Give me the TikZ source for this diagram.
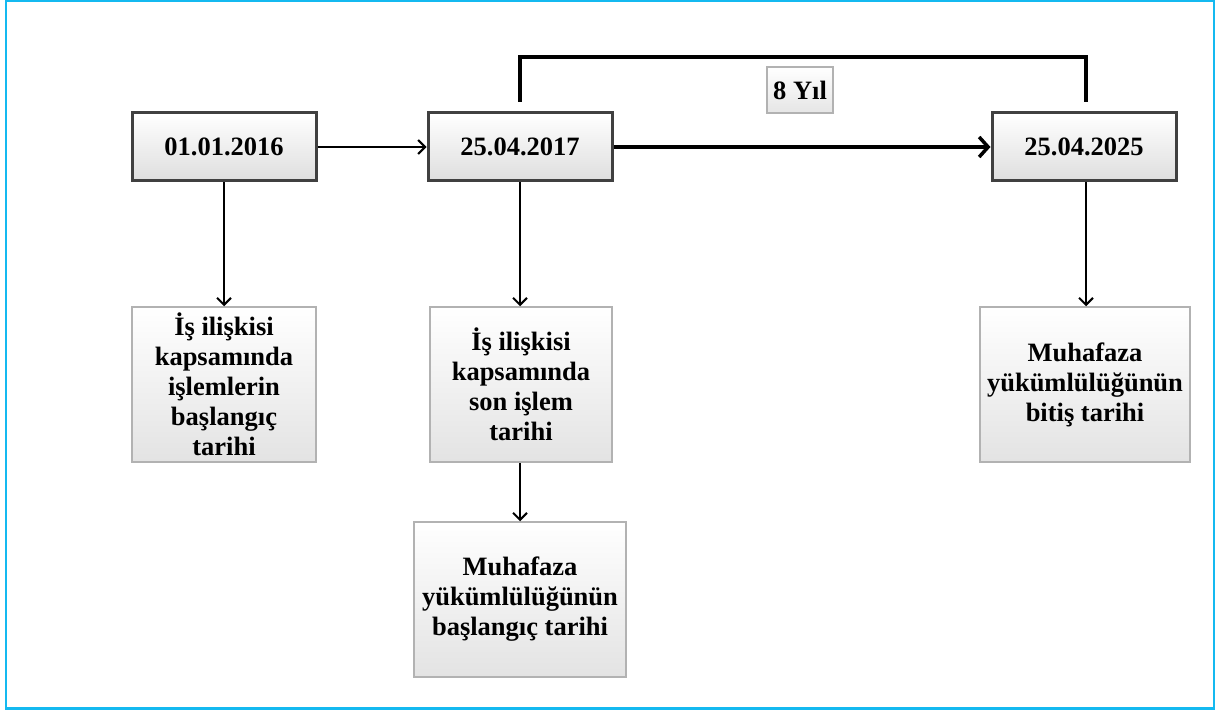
\documentclass[tikz,border=0pt]{standalone}
\usepackage{fontspec}
\setmainfont{Liberation Serif}
\usetikzlibrary{arrows.meta}
\definecolor{frameblue}{RGB}{20,185,240}
\definecolor{boxdark}{RGB}{64,64,64}
\definecolor{boxlight}{RGB}{178,178,178}
\tikzset{
  datebox/.style={draw=boxdark, line width=3pt, top color=white, bottom color=black!13,
    minimum width=184pt, minimum height=68pt, inner sep=0pt, align=center,
    font=\bfseries\fontsize{26.5}{30}\selectfont},
  infobox/.style={draw=boxlight, line width=1.5pt, top color=white, bottom color=black!11,
    minimum height=155pt, inner sep=0pt, align=center,
    font=\bfseries\fontsize{26.5}{30}\selectfont},
  lblbox/.style={draw=boxlight, line width=1.2pt, top color=white, bottom color=black!10,
    minimum width=66pt, minimum height=46pt, inner sep=0pt, align=center,
    font=\bfseries\fontsize{26.5}{30}\selectfont},
  thinarrow/.style={line width=1.8pt, -{Straight Barb[length=7pt,width=14pt,line width=2pt]}},
  thickarrow/.style={line width=4pt, -{Straight Barb[length=9pt,width=20pt,line width=3.5pt]}},
  bracket/.style={line width=4pt}
}
\begin{document}
\begin{tikzpicture}[x=1pt,y=-1pt]
\useasboundingbox (0,0) rectangle (1215,711);
\draw[frameblue, line width=2.5pt] (6,1) rectangle (1214,708.5);

\node[datebox] (a) at (224,147) {01.01.2016};
\node[datebox] (b) at (520,147) {25.04.2017};
\node[datebox] (c) at (1084,147) {25.04.2025};

\node[infobox, minimum width=184pt] (d) at (224,384.5) {İş ilişkisi\\kapsamında\\işlemlerin\\başlangıç\\tarihi};
\node[infobox, minimum width=182pt] (e) at (521,384.5) {İş ilişkisi\\kapsamında\\son işlem\\tarihi};
\node[infobox, minimum width=210pt] (f) at (1085,384.5) {Muhafaza\\yükümlülüğünün\\bitiş tarihi};
\node[infobox, minimum width=212pt] (g) at (520,599.5) {Muhafaza\\yükümlülüğünün\\başlangıç tarihi};

\node[lblbox] (y) at (800,90) {8 Yıl};

\coordinate (bl) at (520,102);
\coordinate (br) at (1086,102);
\draw[bracket] (bl) -- (520,57) -- (1086,57) -- (br);

\draw[thinarrow] (a) -- (b);
\draw[thickarrow] (b) -- (c);
\draw[thinarrow] (a.south) -- (d.north);
\draw[thinarrow] (b.south) -- (e.north -| b.south);
\draw[thinarrow] (e.south -| b.south) -- (g.north -| b.south);
\draw[thinarrow] (c.south -| br) -- (f.north -| br);
\end{tikzpicture}
\end{document}
